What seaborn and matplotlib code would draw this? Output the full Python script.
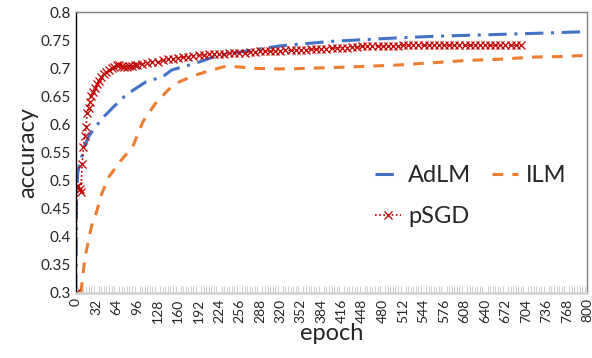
import numpy as np
import pandas as pd
import matplotlib
matplotlib.use("Agg")
import matplotlib.pyplot as plt
from matplotlib.ticker import MultipleLocator
import seaborn as sns

# AdLM (blue, dash-dot)
adlm_epoch = [0, 1, 2, 3, 6, 10, 15, 21, 31, 45, 57, 78, 95, 110, 136, 150, 175, 195, 215,
              250, 290, 320, 360, 400, 450, 500, 560, 620, 680, 740, 790]
adlm_acc = [0.30, 0.45, 0.49, 0.513, 0.53, 0.545, 0.565, 0.58, 0.596, 0.615, 0.629, 0.652, 0.665,
            0.676, 0.685, 0.697, 0.705, 0.712, 0.72, 0.728, 0.735, 0.74, 0.744, 0.748, 0.751,
            0.754, 0.757, 0.759, 0.761, 0.763, 0.765]

# ILM (orange, dashed)
ilm_epoch = [8, 14, 21, 27, 32, 40, 52, 70, 89, 105, 125, 145, 162, 185, 204, 235, 260, 277,
             310, 339, 360, 420, 506, 560, 611, 660, 715, 760, 796]
ilm_acc = [0.30, 0.36, 0.40, 0.43, 0.442, 0.475, 0.507, 0.535, 0.56, 0.605, 0.638, 0.662, 0.676,
           0.687, 0.694, 0.704, 0.702, 0.700, 0.699, 0.699, 0.700, 0.702, 0.706, 0.710, 0.714,
           0.716, 0.720, 0.721, 0.723]

# pSGD (red, dotted with x markers)
psgd_epoch = [0, 2, 4, 6, 8, 10, 12, 14, 16, 18, 20, 22, 24, 27, 30, 33, 36, 40, 44, 48, 52, 56,
              60, 64, 68, 72, 76, 80, 84, 88, 92, 96, 104, 112, 120, 128, 136, 144, 152, 160,
              168, 176, 184, 192, 200, 208, 216, 224, 232, 240, 248, 256, 264, 272, 280, 288,
              296, 304, 312, 320, 328, 336, 344, 352, 360, 368, 376, 384, 392, 400, 408, 416,
              424, 432, 440, 448, 456, 464, 472, 480, 488, 496, 504, 512, 520, 528, 536, 544,
              552, 560, 568, 576, 584, 592, 600, 608, 616, 624, 632, 640, 648, 656, 664, 672,
              680, 688, 696]
psgd_acc = [0.30, 0.49, 0.49, 0.485, 0.48, 0.53, 0.56, 0.58, 0.595, 0.62, 0.63, 0.64, 0.65,
            0.657, 0.665, 0.672, 0.678, 0.685, 0.69, 0.694, 0.697, 0.70, 0.703, 0.705, 0.706,
            0.704, 0.703, 0.703, 0.704, 0.704, 0.705, 0.706, 0.708, 0.709, 0.711, 0.712, 0.714,
            0.716, 0.717, 0.719, 0.720, 0.721, 0.722, 0.723, 0.724, 0.725, 0.725, 0.726, 0.726,
            0.727, 0.727, 0.728, 0.728, 0.729, 0.729, 0.730, 0.730, 0.731, 0.731, 0.731, 0.732,
            0.732, 0.732, 0.733, 0.733, 0.734, 0.734, 0.735, 0.735, 0.736, 0.736, 0.737, 0.737,
            0.738, 0.738, 0.739, 0.739, 0.739, 0.740, 0.740, 0.740, 0.740, 0.740, 0.741, 0.741,
            0.741, 0.741, 0.741, 0.741, 0.741, 0.741, 0.741, 0.741, 0.741, 0.741, 0.741, 0.741,
            0.741, 0.741, 0.741, 0.741, 0.741, 0.741, 0.741, 0.741, 0.741, 0.741]

x_ticks = list(range(0, 801, 32))


def main():
    sns.set_style("white")
    plt.rcParams["font.family"] = ["Lato", "DejaVu Sans"]

    fig = plt.figure(figsize=(5.92, 3.58), dpi=100)
    ax = fig.add_axes([0.128, 0.182, 0.864, 0.784])

    sns.lineplot(x=adlm_epoch, y=adlm_acc, ax=ax, color="#4472C4", linewidth=2.2,
                 linestyle=(0, (6, 2.5, 1, 2.5)), label="AdLM")
    sns.lineplot(x=ilm_epoch, y=ilm_acc, ax=ax, color="#ED7D31", linewidth=2.2,
                 linestyle=(0, (3.5, 3)), label="ILM")
    sns.lineplot(x=psgd_epoch, y=psgd_acc, ax=ax, color="#C00000", linewidth=1.2,
                 linestyle=(0, (1, 1.5)), marker="x", markersize=6, markeredgewidth=0.9,
                 markeredgecolor="#C00000", label="pSGD")

    ax.set_xlim(0, 800)
    ax.set_ylim(0.3, 0.8)
    ax.set_xticks(x_ticks)
    ax.set_xticklabels([str(t) for t in x_ticks], rotation=90, fontsize=10)
    ax.xaxis.set_minor_locator(MultipleLocator(4))
    ax.yaxis.set_major_locator(MultipleLocator(0.05))
    ax.yaxis.set_major_formatter(plt.FuncFormatter(lambda v, p: f"{v:.2f}".rstrip("0")))
    ax.tick_params(axis="y", labelsize=11, length=4, direction="in", color="black")
    ax.tick_params(axis="x", which="major", length=0, pad=4)
    ax.tick_params(axis="x", which="minor", length=5, direction="in", color="#c8c8c8",
                   bottom=True)

    for side in ["top", "right"]:
        ax.spines[side].set_color("#808080")
        ax.spines[side].set_linewidth(1.0)
    ax.spines["bottom"].set_color("#d0d0d0")
    ax.spines["bottom"].set_linewidth(1.8)
    ax.spines["left"].set_color("black")
    ax.spines["left"].set_linewidth(1.0)

    ax.set_xlabel("epoch", fontsize=17, labelpad=0)
    ax.set_ylabel("accuracy", fontsize=17, labelpad=2)

    handles, labels = ax.get_legend_handles_labels()
    order = [0, 2, 1]
    ax.legend([handles[i] for i in order], [labels[i] for i in order], ncol=2,
              loc="center left", bbox_to_anchor=(0.585, 0.345), frameon=False,
              borderaxespad=0, borderpad=0,
              fontsize=17, handlelength=1.1, handletextpad=0.3, columnspacing=0.9,
              labelspacing=0.85)

    fig.savefig("out.png", dpi=100)
    plt.close(fig)


if __name__ == "__main__":
    main()
